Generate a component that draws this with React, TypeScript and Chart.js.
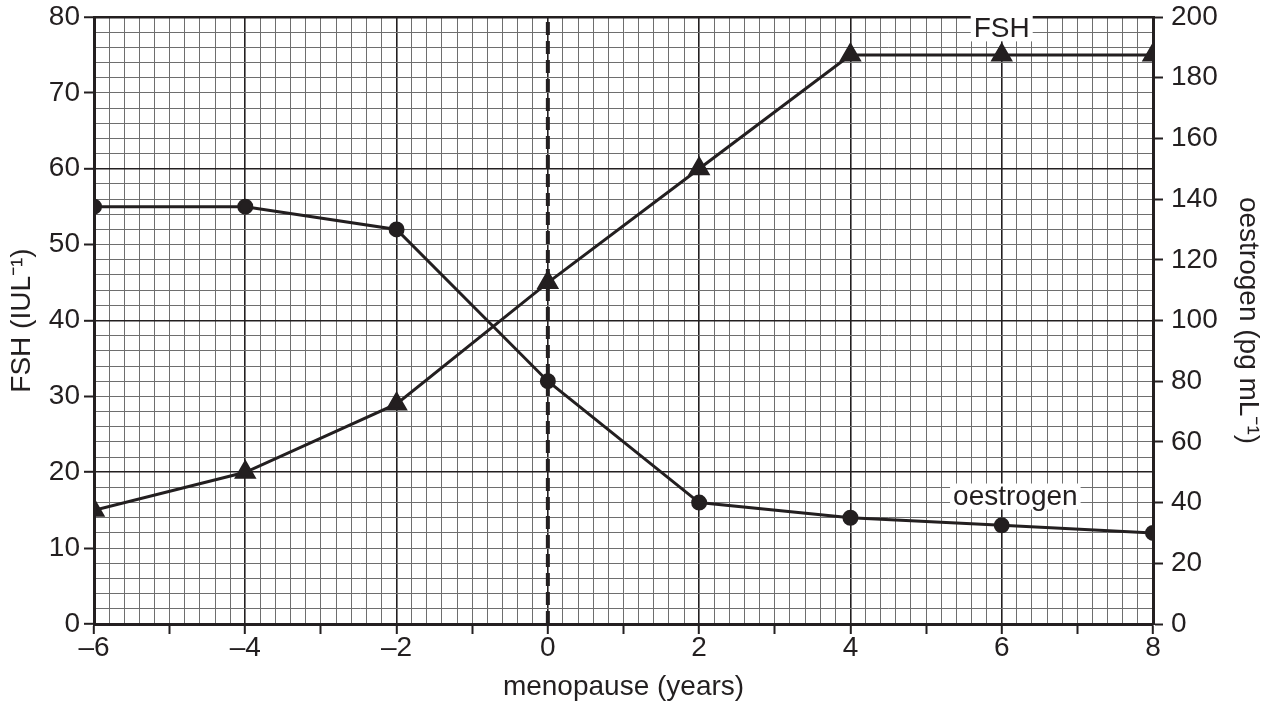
import React, { useEffect, useRef } from "react";
import { Chart, registerables } from "chart.js";

Chart.register(...registerables);

const years = [-6, -4, -2, 0, 2, 4, 6, 8];
const fshValues = [15, 20, 29, 45, 60, 75, 75, 75];
const oestrogenValues = [137.5, 137.5, 130, 80, 40, 35, 32.5, 30];
const menopauseLine = [0, 80];
const xTickMin = -6;
const xTickMax = 8;
const fshMax = 80;
const oestrogenMax = 200;
const seriesLabels = ["FSH", "oestrogen"];

const FONT = "'Liberation Sans', Arial, sans-serif";

const near = (v: number, step: number) => {
  const r = v / step;
  return Math.abs(r - Math.round(r)) < 1e-6;
};
const fmt = (v: number) => (v < 0 ? "\u2013" + Math.abs(v) : String(v));

const labelPlugin = {
  id: "seriesLabels",
  afterDatasetsDraw(chart: any) {
    const { ctx, scales } = chart;
    const x = scales.x;
    const y = scales.y;
    const items = [
      { text: seriesLabels[0], xv: 6, yv: 78.5 },
      { text: seriesLabels[1], xv: 6.18, yv: 16.8 },
    ];
    ctx.save();
    ctx.font = `28px ${FONT}`;
    ctx.textAlign = "center";
    ctx.textBaseline = "middle";
    for (const it of items) {
      const px = x.getPixelForValue(it.xv);
      const py = y.getPixelForValue(it.yv);
      const w = ctx.measureText(it.text).width;
      ctx.fillStyle = "#fff";
      ctx.fillRect(px - w / 2 - 3, py - 13, w + 6, 26);
      ctx.fillStyle = "#231f20";
      ctx.fillText(it.text, px, py + 1);
    }
    ctx.restore();
  },
};

export default function App() {
  const ref = useRef<HTMLCanvasElement | null>(null);

  useEffect(() => {
    const canvas = ref.current!;
    const chart = new Chart(canvas, {
      type: "line",
      data: {
        datasets: [
          {
            data: menopauseLine.map((v) => ({ x: 0, y: v })),
            borderColor: "#231f20",
            borderWidth: 4,
            borderDash: [13, 6],
            pointRadius: 0,
            yAxisID: "y",
          },
          {
            label: seriesLabels[0],
            data: years.map((x, i) => ({ x, y: fshValues[i] })),
            borderColor: "#231f20",
            backgroundColor: "#231f20",
            borderWidth: 3,
            pointStyle: "triangle",
            pointRadius: 10,
            yAxisID: "y",
          },
          {
            label: seriesLabels[1],
            data: years.map((x, i) => ({ x, y: oestrogenValues[i] })),
            borderColor: "#231f20",
            backgroundColor: "#231f20",
            borderWidth: 3,
            pointStyle: "circle",
            pointRadius: 6.5,
            yAxisID: "y2",
          },
        ],
      },
      options: {
        responsive: false,
        animation: false,
        devicePixelRatio: 1,
        layout: { padding: { top: 17, left: 0, right: 0, bottom: 0 } },
        plugins: { legend: { display: false }, tooltip: { enabled: false } },
        scales: {
          x: {
            type: "linear",
            min: xTickMin,
            max: xTickMax,
            afterBuildTicks: (s: any) => {
              const t = [];
              for (let i = 0; i <= (xTickMax - xTickMin) * 5; i++) {
                t.push({ value: Number((xTickMin + i * 0.2).toFixed(1)) });
              }
              s.ticks = t;
            },
            afterFit: (s: any) => {
              s.height = 77;
              s.paddingLeft = 0;
              s.paddingRight = 0;
            },
            border: { color: "#231f20", width: 3 },
            grid: {
              color: (c: any) => (near(c.tick.value, 2) ? "#231f20" : "#6e6e6e"),
              lineWidth: (c: any) => (near(c.tick.value, 2) ? 1.6 : 1),
              tickLength: 10,
              tickColor: (c: any) => (near(c.tick.value, 1) ? "#231f20" : "rgba(0,0,0,0)"),
              tickWidth: 2,
            },
            ticks: {
              autoSkip: false,
              maxRotation: 0,
              padding: 0,
              color: "#231f20",
              font: { family: FONT, size: 28, lineHeight: 1 },
              callback: (v: any) => (near(Number(v), 2) ? fmt(Math.round(Number(v))) : ""),
            },
            title: {
              display: true,
              text: "menopause (years)",
              color: "#231f20",
              font: { family: FONT, size: 28, lineHeight: 1 },
              padding: { top: 0, bottom: 0 },
            },
          },
          y: {
            type: "linear",
            position: "left",
            min: 0,
            max: fshMax,
            afterBuildTicks: (s: any) => {
              const t = [];
              for (let v = 0; v <= fshMax; v += 2) t.push({ value: v });
              s.ticks = t;
            },
            afterFit: (s: any) => {
              s.width = 94;
              s.paddingTop = 0;
              s.paddingBottom = 0;
            },
            border: { color: "#231f20", width: 3 },
            grid: {
              color: (c: any) => (near(c.tick.value, 20) ? "#231f20" : "#6e6e6e"),
              lineWidth: (c: any) =>
                c.tick.value === fshMax ? 2.5 : near(c.tick.value, 20) ? 1.6 : 1,
              tickLength: 10,
              tickColor: (c: any) => (near(c.tick.value, 10) ? "#231f20" : "rgba(0,0,0,0)"),
              tickWidth: 2,
            },
            ticks: {
              autoSkip: false,
              padding: 4,
              color: "#231f20",
              font: { family: FONT, size: 28, lineHeight: 1 },
              callback: (v: any) => (near(Number(v), 10) ? String(v) : ""),
            },
            title: {
              display: true,
              text: "FSH (IUL\u207B\u00B9)",
              color: "#231f20",
              font: { family: FONT, size: 28, lineHeight: 1 },
              padding: { top: 8, bottom: 0 },
            },
          },
          y2: {
            type: "linear",
            position: "right",
            min: 0,
            max: oestrogenMax,
            afterBuildTicks: (s: any) => {
              const t = [];
              for (let v = 0; v <= oestrogenMax; v += 20) t.push({ value: v });
              s.ticks = t;
            },
            afterFit: (s: any) => {
              s.width = 123;
              s.paddingTop = 0;
              s.paddingBottom = 0;
            },
            border: { color: "#231f20", width: 3 },
            grid: {
              drawOnChartArea: false,
              tickLength: 10,
              tickColor: "#231f20",
              tickWidth: 2,
            },
            ticks: {
              autoSkip: false,
              padding: 8,
              color: "#231f20",
              font: { family: FONT, size: 28, lineHeight: 1 },
            },
            title: {
              display: true,
              text: "oestrogen (pg mL\u207B\u00B9)",
              color: "#231f20",
              font: { family: FONT, size: 28, lineHeight: 1 },
              padding: { top: 14, bottom: 0 },
            },
          },
        },
      } as any,
      plugins: [labelPlugin],
    });
    return () => chart.destroy();
  }, []);

  return (
    <div style={{ position: "absolute", left: 0, top: 0, width: 1276, height: 701, background: "#fff" }}>
      <canvas ref={ref} width={1276} height={701} style={{ display: "block", width: 1276, height: 701 }} />
    </div>
  );
}
